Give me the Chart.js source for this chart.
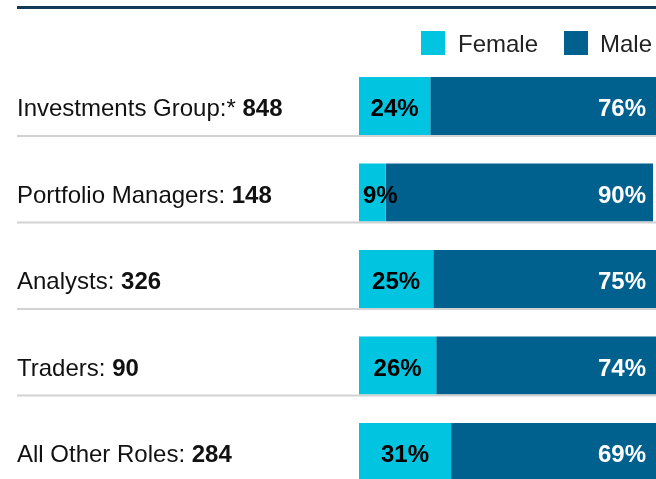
<!DOCTYPE html>
<html>
<head>
<meta charset="utf-8">
<script src="https://cdn.jsdelivr.net/npm/chart.js@4"></script>
<style>
  html, body { margin: 0; padding: 0; background: #fff; overflow: hidden; }
  #wrap { width: 656px; height: 479px; overflow: hidden; }
</style>
</head>
<body>
<div id="wrap"><canvas id="chart" width="656" height="496"></canvas></div>
<script>
const roles = ['Investments Group:*', 'Portfolio Managers:', 'Analysts:', 'Traders:', 'All Other Roles:']
const counts = ['848', '148', '326', '90', '284']
const female = [24, 9, 25, 26, 31]
const male = [76, 90, 75, 74, 69]

const FEMALE_COLOR = '#00c4e0'
const MALE_COLOR = '#00608e'
const FONT = "'Liberation Sans', Arial, sans-serif"

// the last row runs off the bottom of the visible page, so the canvas is a bit taller
const decorations = {
  id: 'decorations',
  afterDatasetsDraw(chart) {
    const { ctx, chartArea, scales } = chart
    const w = chart.width
    ctx.save()

    // heavy rule at top
    ctx.fillStyle = '#113a58'
    ctx.fillRect(17, 6, w - 17, 3)

    // legend
    ctx.font = '24px ' + FONT
    ctx.textBaseline = 'alphabetic'
    ctx.textAlign = 'left'
    ctx.fillStyle = FEMALE_COLOR
    ctx.fillRect(421, 31, 24, 24)
    ctx.fillStyle = '#222'
    ctx.fillText('Female', 458, 52)
    ctx.fillStyle = MALE_COLOR
    ctx.fillRect(564, 31, 24, 24)
    ctx.fillStyle = '#222'
    ctx.fillText('Male', 600, 52)

    // row labels and separators
    roles.forEach((role, i) => {
      const y = scales.y.getPixelForValue(i)
      ctx.font = '24px ' + FONT
      ctx.fillStyle = '#111'
      ctx.textAlign = 'left'
      ctx.fillText(role + ' ', 17, y + 10)
      const tw = ctx.measureText(role + ' ').width
      ctx.font = 'bold 24px ' + FONT
      ctx.fillText(counts[i], 17 + tw, y + 10)

      if (i < roles.length - 1) {
        ctx.fillStyle = '#d2d2d2'
        ctx.fillRect(17, y + 29, w - 17, 2)
      }
    })

    // value labels inside bars
    ctx.font = 'bold 24px ' + FONT
    const fMeta = chart.getDatasetMeta(0)
    const mMeta = chart.getDatasetMeta(1)
    fMeta.data.forEach((bar, i) => {
      const txt = female[i] + '%'
      const half = ctx.measureText(txt).width / 2
      ctx.fillStyle = '#000'
      ctx.textAlign = 'center'
      const cx = (bar.base + bar.x) / 2
      ctx.fillText(txt, Math.max(cx, chartArea.left + half + 4), bar.y + 10)
    })
    mMeta.data.forEach((bar, i) => {
      ctx.fillStyle = '#fff'
      ctx.textAlign = 'right'
      ctx.fillText(male[i] + '%', chartArea.right - 10, bar.y + 10)
    })
    ctx.restore()
  }
}

new Chart(document.getElementById('chart'), {
  type: 'bar',
  data: {
    labels: roles,
    datasets: [
      { label: 'Female', data: female, backgroundColor: FEMALE_COLOR, borderWidth: 0 },
      { label: 'Male', data: male, backgroundColor: MALE_COLOR, borderWidth: 0 }
    ]
  },
  options: {
    indexAxis: 'y',
    responsive: false,
    animation: false,
    layout: { padding: { left: 359, right: 0, top: 62.75, bottom: 0.75 } },
    categoryPercentage: 1,
    barPercentage: 0.67,
    plugins: { legend: { display: false }, tooltip: { enabled: false } },
    scales: {
      x: { stacked: true, min: 0, max: 100, display: false },
      y: { stacked: true, display: false }
    }
  },
  plugins: [decorations]
})
</script>
</body>
</html>
